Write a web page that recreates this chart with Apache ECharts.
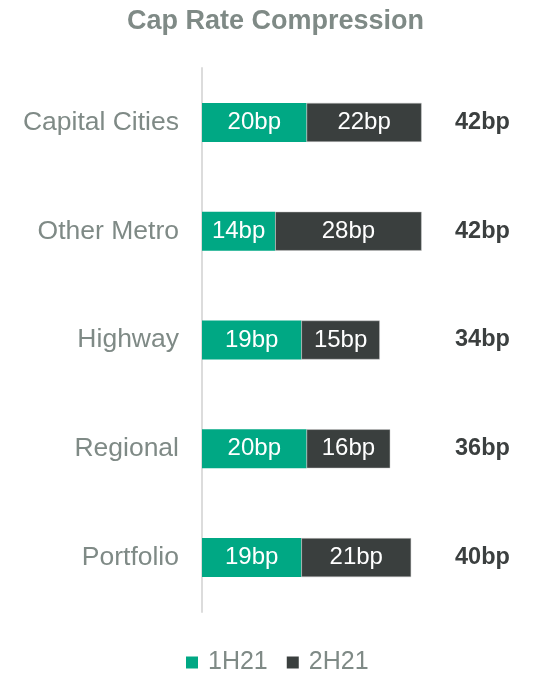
<!DOCTYPE html>
<html><head><meta charset="utf-8">
<script src="https://cdn.jsdelivr.net/npm/echarts@6/dist/echarts.min.js"></script>
<style>html,body{margin:0;padding:0;background:#fff}#c{width:533px;height:676px}</style>
</head><body><div id="c"></div>
<script>
const categories = ['Capital Cities','Other Metro','Highway','Regional','Portfolio'];
const h1 = [20,14,19,20,19];
const h2 = [22,28,15,16,21];
const seriesNames = ['1H21','2H21'];
const totals = categories.map((c,i)=>h1[i]+h2[i]);
const FONT = '"Liberation Sans", Arial, sans-serif';
const chart = echarts.init(document.getElementById('c'), null, {renderer:'canvas'});
chart.setOption({
  animation:false,
  title:{text:'Cap Rate Compression',left:122,top:3,textStyle:{fontFamily:FONT,fontSize:27,fontWeight:'bold',color:'#7f8a86'}},
  grid:{left:202,top:68,width:251,height:544,containLabel:false},
  xAxis:{type:'value',min:0,max:48,show:false},
  yAxis:[{type:'category',data:categories,inverse:true,
    axisLine:{show:true,lineStyle:{color:'#dcdcdc',width:2}},axisTick:{show:false},
    axisLabel:{fontFamily:FONT,fontSize:26.5,color:'#7f8a86',margin:23}},
   {type:'category',data:categories,inverse:true,position:'right',
    axisLine:{show:false},axisTick:{show:false},
    axisLabel:{fontFamily:FONT,fontSize:23.5,fontWeight:'bold',color:'#3b3f3f',margin:2,align:'left',padding:[0,0,10,0],
      formatter:(v,i)=>totals[i]+'bp'}}],
  legend:{top:650,left:186,itemWidth:12,itemHeight:12,itemGap:19,icon:'rect',padding:0,
    itemStyle:{borderWidth:0},
    textStyle:{fontFamily:FONT,fontSize:25,color:'#7f8a86',padding:[2,0,0,5]},data:seriesNames},
  series:[
    {name:seriesNames[0],type:'bar',stack:'a',data:h1,barWidth:39,itemStyle:{color:'#00a884'},
      label:{show:true,position:'inside',formatter:p=>p.value+'bp',fontFamily:FONT,fontSize:24,color:'#fff'}},
    {name:seriesNames[1],type:'bar',stack:'a',data:h2,barWidth:39,itemStyle:{color:'#3a3f3e',borderColor:'#c8c8c8',borderWidth:0.5},
      label:{show:true,position:'inside',formatter:p=>p.value+'bp',fontFamily:FONT,fontSize:24,color:'#fff'}}
  ]
});
</script></body></html>
